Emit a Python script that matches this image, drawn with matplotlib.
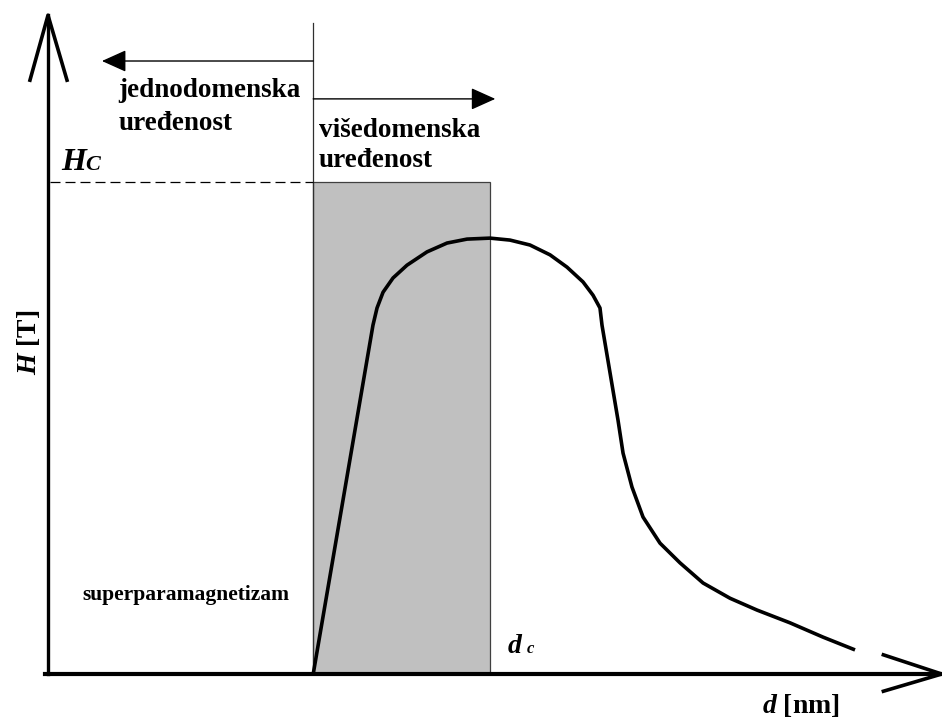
import numpy as np
import matplotlib.pyplot as plt
from matplotlib.patches import Rectangle

plt.rcParams['mathtext.fontset'] = 'custom'
plt.rcParams['mathtext.it'] = 'Liberation Serif:italic:bold'
plt.rcParams['mathtext.rm'] = 'Liberation Serif:bold'

# coercivity vs particle size (schematic), d in arbitrary units, H with Hc = 100
d_curve = [30.0, 36.76, 37.22, 37.90, 39.03, 40.61, 42.87, 45.14, 47.40, 50.0,
           52.26, 54.52, 56.79, 58.71, 60.52, 61.65, 62.44, 62.67, 64.48, 65.05,
           66.06, 67.31, 69.23, 71.49, 74.10, 77.15, 80.20, 83.94, 87.67, 91.29]
H_curve = [0.0, 70.9, 74.4, 77.6, 80.5, 83.1, 85.8, 87.6, 88.4, 88.6,
           88.2, 87.2, 85.2, 82.7, 79.7, 77.0, 74.4, 70.9, 51.6, 44.9,
           38.0, 31.9, 26.6, 22.6, 18.5, 15.4, 13.0, 10.4, 7.5, 4.9]

d_single = 30.0   # single-domain limit
d_c = 50.0        # critical diameter
H_c = 100.0

serif = 'Liberation Serif'

fig = plt.figure(figsize=(9.42, 7.24), dpi=100)
ax = fig.add_axes([0, 0, 1, 1])
ax.set_xlim(-5.43, 101.13)
ax.set_ylim(-10.16, 137.0)
ax.axis('off')

# shaded multi-domain region
ax.add_patch(Rectangle((d_single, 0), d_c - d_single, H_c,
                       facecolor='#c0c0c0', edgecolor='#404040', lw=0.9, zorder=1))
ax.plot([d_single, d_single], [0, 132.3], color='#303030', lw=0.9, zorder=2)
ax.plot([0.2, d_single], [H_c, H_c], color='black', lw=0.9,
        dashes=(8, 4), zorder=2)

# curve
ax.plot(d_curve, H_curve, color='black', lw=2.6, solid_capstyle='butt',
        solid_joinstyle='round', zorder=3)

# axes with open arrow heads
ax.plot([0, 0], [0, 133.9], color='black', lw=2.4, zorder=4)
ax.plot([-2.04, 0, 2.15], [120.7, 133.9, 120.7], color='black', lw=2.6, zorder=4)
ax.plot([-0.34, 101.1], [0, 0], color='black', lw=3.0, zorder=4)
ax.plot([94.5, 101.1, 94.5], [3.9, 0, -3.5], color='black', lw=2.6, zorder=4)

# region arrows
arrow_kw = dict(arrowstyle='-|>,head_length=0.4,head_width=0.18', mutation_scale=38,
                lw=1.0, color='black', shrinkA=0, shrinkB=0)
ax.annotate('', xy=(6.1, 124.6), xytext=(d_single, 124.6), arrowprops=arrow_kw)
ax.annotate('', xy=(50.6, 116.9), xytext=(d_single, 116.9), arrowprops=arrow_kw)

txt = dict(family=serif, weight='bold', color='black', va='baseline', ha='left')
ax.text(8.0, 117.3, 'jednodomenska', fontsize=19.5, **txt)
ax.text(8.0, 110.6, 'uređenost', fontsize=19.5, **txt)
ax.text(30.66, 109.1, 'višedomenska', fontsize=19.5, **txt)
ax.text(30.66, 103.0, 'uređenost', fontsize=19.5, **txt)
ax.text(3.85, 15.0, 'superparamagnetizam', fontsize=15.5, **txt)

ax.text(1.47, 102.4, 'H', fontsize=23, style='italic', **txt)
ax.text(4.2, 102.4, 'C', fontsize=16, style='italic', **txt)
ax.text(52.0, 4.3, 'd', fontsize=20, style='italic', **txt)
ax.text(54.1, 4.3, 'c', fontsize=12, style='italic', **txt)

ax.text(80.8, -7.9, '$d$ [nm]', fontsize=20, **txt)
ax.text(-2.26, 67.5, '$H$ [T]', fontsize=20, family=serif, weight='bold',
        rotation=90, ha='center', va='center', color='black')

fig.savefig('out.png', dpi=100)
